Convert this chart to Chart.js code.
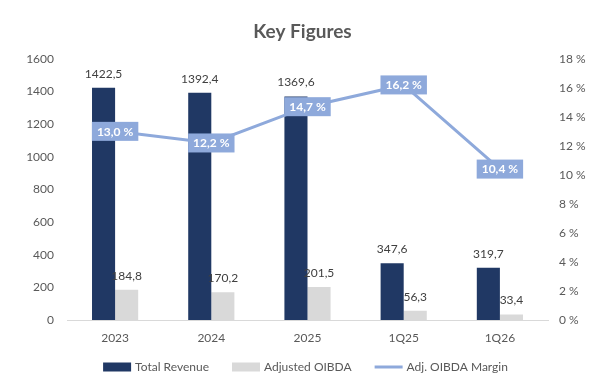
<!DOCTYPE html>
<html>
<head>
<meta charset="utf-8">
<script src="https://cdn.jsdelivr.net/npm/chart.js@4/dist/chart.umd.min.js"></script>
<style>
  html, body { margin: 0; padding: 0; background: #ffffff; }
  #wrap { width: 605px; height: 384px; position: relative; }
</style>
</head>
<body>
<div id="wrap"><canvas id="c" width="605" height="384"></canvas></div>
<script>
const categories = ['2023', '2024', '2025', '1Q25', '1Q26'];
const totalRevenue = [1422.5, 1392.4, 1369.6, 347.6, 319.7];
const adjustedOIBDA = [184.8, 170.2, 201.5, 56.3, 33.4];
const oibdaMargin = [13.0, 12.2, 14.7, 16.2, 10.4];
const seriesNames = ['Total Revenue', 'Adjusted OIBDA', 'Adj. OIBDA Margin'];
const chartTitle = 'Key Figures';

const NAVY = '#203864';
const GRAY = '#D9D9D9';
const LINEC = '#8EA9DB';
const TXT = '#595959';
const FONT = 'Lato, "Open Sans", sans-serif';

function fmt(v) { return v.toFixed(1).replace('.', ','); }

const labelPlugin = {
  id: 'valueLabels',
  afterDatasetsDraw(chart) {
    const ctx = chart.ctx;
    ctx.save();
    [0, 1].forEach(di => {
      const meta = chart.getDatasetMeta(di);
      const data = chart.data.datasets[di].data;
      meta.data.forEach((el, i) => {
        ctx.font = '12px ' + FONT;
        ctx.fillStyle = '#404040';
        ctx.textAlign = 'center';
        ctx.textBaseline = 'middle';
        ctx.fillText(fmt(data[i]), el.x, el.y - 14);
      });
    });
    const lm = chart.getDatasetMeta(2);
    const ld = chart.data.datasets[2].data;
    lm.data.forEach((el, i) => {
      const t = fmt(ld[i]) + ' %';
      ctx.font = 'bold 12px ' + FONT;
      const w = ctx.measureText(t).width + 10;
      const h = 19;
      ctx.fillStyle = LINEC;
      ctx.fillRect(el.x - w / 2, el.y - h / 2, w, h);
      ctx.fillStyle = '#ffffff';
      ctx.textAlign = 'center';
      ctx.textBaseline = 'middle';
      ctx.fillText(t, el.x, el.y + 0.5);
    });
    ctx.restore();
  }
};

const legendPlugin = {
  id: 'customLegend',
  afterDraw(chart) {
    const ctx = chart.ctx;
    ctx.save();
    ctx.font = '12px ' + FONT;
    const boxW = 28, gapT = 4, gapI = 23;
    const widths = seriesNames.map(n => boxW + gapT + ctx.measureText(n).width);
    const total = widths.reduce((a, b) => a + b, 0) + gapI * (widths.length - 1);
    let x = chart.width / 2 - total / 2 + 3;
    const y = 367;
    seriesNames.forEach((n, i) => {
      if (i < 2) {
        ctx.fillStyle = i === 0 ? NAVY : GRAY;
        ctx.fillRect(x, y - 4.5, boxW, 9);
      } else {
        ctx.strokeStyle = LINEC;
        ctx.lineWidth = 3;
        ctx.beginPath();
        ctx.moveTo(x, y);
        ctx.lineTo(x + boxW, y);
        ctx.stroke();
      }
      ctx.fillStyle = TXT;
      ctx.textAlign = 'left';
      ctx.textBaseline = 'middle';
      ctx.fillText(n, x + boxW + gapT, y);
      x += widths[i] + gapI;
    });
    ctx.restore();
  }
};

new Chart(document.getElementById('c'), {
  type: 'bar',
  data: {
    labels: categories,
    datasets: [
      { label: seriesNames[0], data: totalRevenue, backgroundColor: NAVY, yAxisID: 'y', order: 2,
        categoryPercentage: 0.48, barPercentage: 1.0 },
      { label: seriesNames[1], data: adjustedOIBDA, backgroundColor: GRAY, yAxisID: 'y', order: 2,
        categoryPercentage: 0.48, barPercentage: 1.0 },
      { type: 'line', label: seriesNames[2], data: oibdaMargin, borderColor: LINEC, backgroundColor: LINEC,
        borderWidth: 3, pointRadius: 0, tension: 0, yAxisID: 'y1', order: 0 }
    ]
  },
  options: {
    responsive: false,
    animation: false,
    devicePixelRatio: 1,
    layout: { padding: { top: 20, bottom: 38, left: 0, right: 0 } },
    plugins: {
      legend: { display: false },
      tooltip: { enabled: false },
      title: {
        display: true, text: chartTitle, color: TXT,
        font: { family: FONT, size: 19, weight: 'bold', lineHeight: 1.2 },
        padding: { top: 0, bottom: 16 }
      }
    },
    scales: {
      x: {
        grid: { display: false, drawTicks: false },
        border: { display: true, color: GRAY, width: 1 },
        ticks: { color: TXT, font: { family: FONT, size: 12 }, padding: 11 },
        afterFit(s) { s.height = 26; }
      },
      y: {
        position: 'left', min: 0, max: 1600,
        grid: { display: false, drawTicks: false },
        border: { display: false },
        ticks: { stepSize: 200, color: TXT, font: { family: FONT, size: 12 }, padding: 13,
          callback: v => String(v) },
        afterFit(s) { s.width = 67; }
      },
      y1: {
        position: 'right', min: 0, max: 18,
        grid: { display: false, drawTicks: false },
        border: { display: false },
        ticks: { stepSize: 2, color: TXT, font: { family: FONT, size: 12 }, padding: 11,
          callback: v => v + ' %' },
        afterFit(s) { s.width = 57; }
      }
    }
  },
  plugins: [labelPlugin, legendPlugin]
});
</script>
</body>
</html>
